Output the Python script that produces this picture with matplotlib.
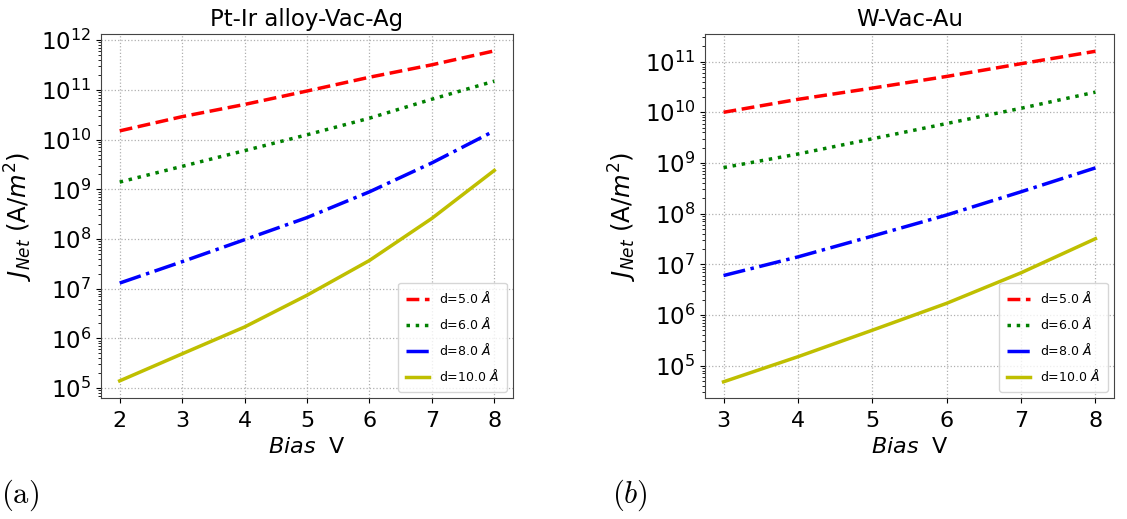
import numpy as np
import matplotlib
matplotlib.use("Agg")
import matplotlib.pyplot as plt
from matplotlib.ticker import LogLocator, NullFormatter

# ---- data ----
bias_a = [2, 3, 4, 5, 6, 7, 8]
a_d5 = [1.5e10, 2.9e10, 5.1e10, 9.5e10, 1.8e11, 3.2e11, 6.1e11]
a_d6 = [1.4e9, 2.9e9, 6.0e9, 1.25e10, 2.7e10, 6.5e10, 1.5e11]
a_d8 = [1.3e7, 3.5e7, 9.7e7, 2.7e8, 8.9e8, 3.4e9, 1.5e10]
a_d10 = [1.4e5, 4.9e5, 1.7e6, 7.4e6, 3.7e7, 2.6e8, 2.4e9]

bias_b = [3, 4, 5, 6, 7, 8]
b_d5 = [1.0e10, 1.8e10, 3.0e10, 5.1e10, 9.1e10, 1.6e11]
b_d6 = [8.1e8, 1.5e9, 3.0e9, 6.0e9, 1.2e10, 2.5e10]
b_d8 = [6.0e6, 1.4e7, 3.6e7, 9.4e7, 2.7e8, 8.0e8]
b_d10 = [4.8e4, 1.5e5, 5.0e5, 1.7e6, 6.8e6, 3.2e7]

labels = [r"d=5.0 $\AA$", r"d=6.0 $\AA$", r"d=8.0 $\AA$", r"d=10.0 $\AA$"]
titles = ["Pt-Ir alloy-Vac-Ag", "W-Vac-Au"]
panel_tags = [r"$(\mathrm{a})$", r"$(b)$"]

styles = [("r", "--"), ("g", ":"), ("b", "-."), ("y", "-")]

fig = plt.figure(figsize=(11.27, 5.19), dpi=100)
ax1 = fig.add_axes([0.0896, 0.233, 0.3656, 0.701])
ax2 = fig.add_axes([0.6255, 0.233, 0.363, 0.701])

panels = [
    (ax1, bias_a, [a_d5, a_d6, a_d8, a_d10], (10 ** 4.8, 10 ** 12.12)),
    (ax2, bias_b, [b_d5, b_d6, b_d8, b_d10], (10 ** 4.36, 10 ** 11.54)),
]

for i, (ax, x, series, ylim) in enumerate(panels):
    for (c, ls), y, lab in zip(styles, series, labels):
        ax.plot(x, y, color=c, linestyle=ls, linewidth=2.5, label=lab)
    ax.set_yscale("log")
    ax.set_ylim(*ylim)
    ax.set_xticks(x)
    ax.margins(x=0.05)
    ax.yaxis.set_major_locator(LogLocator(base=10, numticks=30))
    ax.yaxis.set_minor_locator(LogLocator(base=10, subs=np.arange(2, 10), numticks=100))
    ax.yaxis.set_minor_formatter(NullFormatter())
    ax.grid(True, which="major", linestyle=":", color="#b0b0b0", linewidth=0.9)
    ax.tick_params(axis="y", which="major", labelsize=16.5)
    ax.tick_params(axis="x", which="major", labelsize=16, pad=6)
    ax.set_title(titles[i], fontsize=16.5)
    ax.set_xlabel(r"$Bias$  V", fontsize=16)
    ax.set_ylabel(r"$J_{Net}$ (A/$m^2$)", fontsize=17.5)
    ax.legend(loc="lower right", fontsize=9, handlelength=1.9, borderpad=0.6,
              labelspacing=0.8)
    for s in ax.spines.values():
        s.set_color("#444444")

fig.text(0.001, 0.045, panel_tags[0], fontsize=22, math_fontfamily="cm", va="center")
fig.text(0.543, 0.045, panel_tags[1], fontsize=22, math_fontfamily="cm", va="center")

fig.savefig("out.png", dpi=100)
